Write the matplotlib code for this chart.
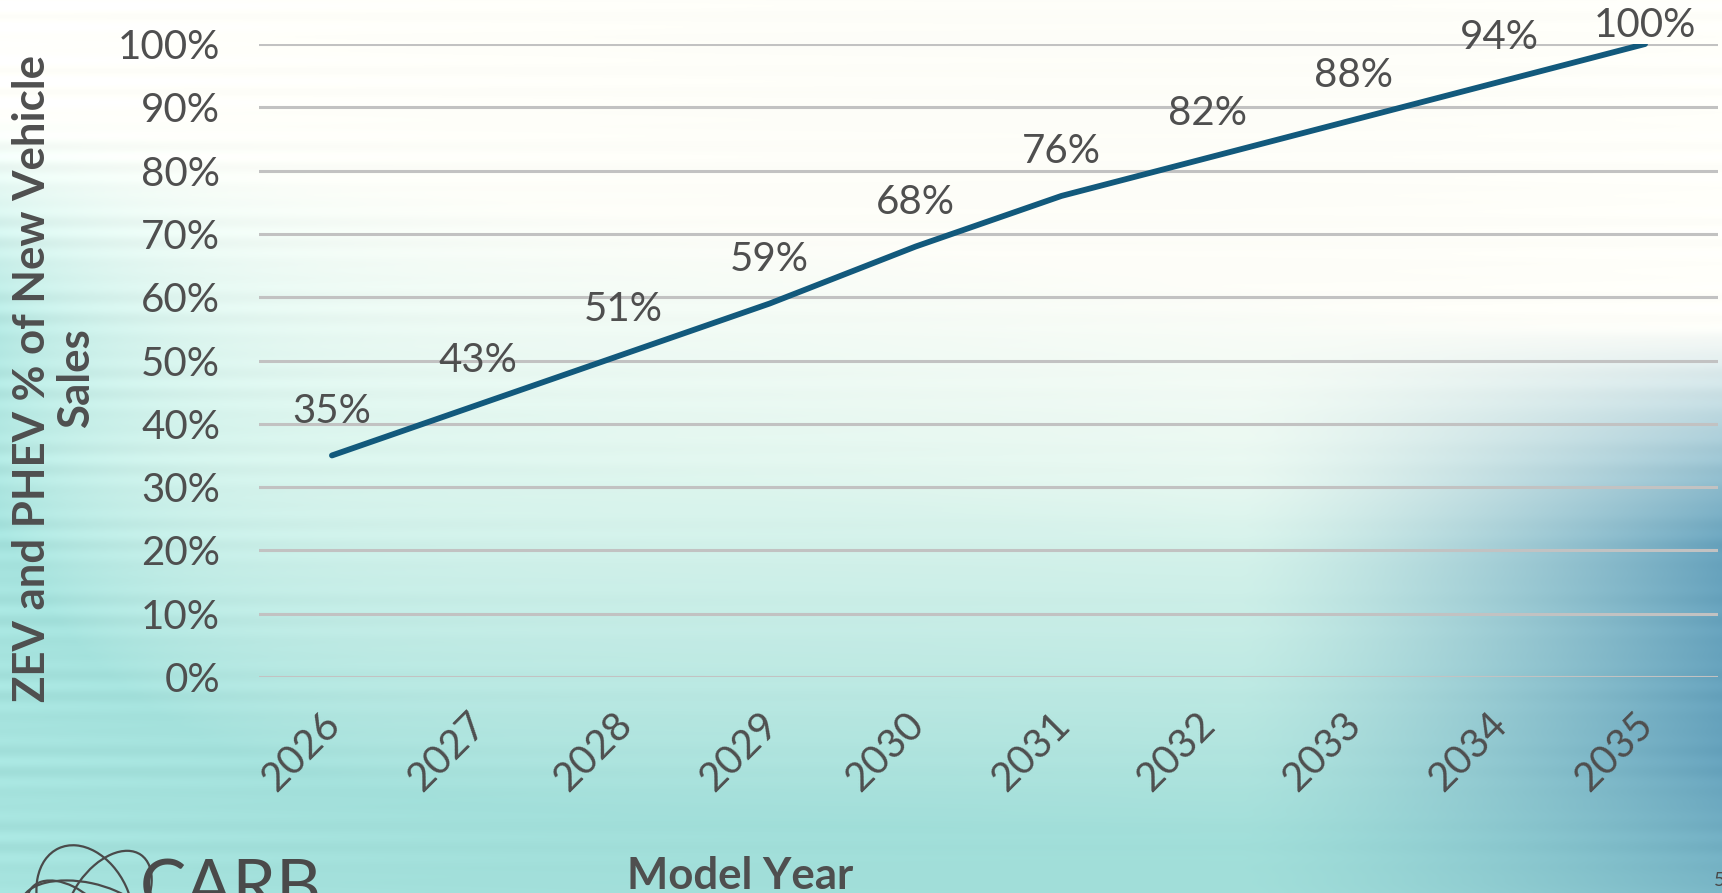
import matplotlib.pyplot as plt
from matplotlib.patches import Arc
import numpy as np


# chart data
years = ['2026', '2027', '2028', '2029', '2030', '2031', '2032', '2033', '2034', '2035']
share = [35, 43, 51, 59, 68, 76, 82, 88, 94, 100]  # % of new vehicle sales
y_ticks = [0, 10, 20, 30, 40, 50, 60, 70, 80, 90, 100]

W, H, DPI = 1722, 893, 100
TXT = '#4f4f4f'
LINE = '#12597c'

plt.rcParams['font.family'] = ['Lato', 'DejaVu Sans']


def background(w, h):
    """soft slide background: cream top, teal bottom/left, darker blue on the right"""
    yy, xx = np.mgrid[0:h, 0:w]
    xn = xx / w
    yn = yy / h
    cream = np.array([0.992, 0.992, 0.972])
    mint = np.array([0.87, 0.96, 0.93])
    teal = np.array([0.63, 0.87, 0.85])
    deep = np.array([0.37, 0.61, 0.72])

    w_mint = np.clip((yn - 0.16 - 0.22 * xn) / 0.3, 0, 1)
    w_teal = np.clip((yn - 0.5 - 0.05 * xn) / 0.4, 0, 1) ** 1.1
    w_left = np.exp(-xn / 0.09) * np.clip((yn - 0.12) / 0.25, 0, 1)
    w_teal = np.clip(w_teal + 0.8 * w_left, 0, 1)
    w_deep = (np.clip((xn - 0.72) / 0.28, 0, 1) ** 1.3
              * np.clip((yn - 0.36) / 0.25, 0, 1)
              * np.clip((1.3 - yn) / 0.45, 0, 1) * 0.95)

    img = cream * (1 - w_mint[..., None]) + mint * w_mint[..., None]
    img = img * (1 - w_teal[..., None]) + teal * w_teal[..., None]
    img = img * (1 - w_deep[..., None]) + deep * w_deep[..., None]

    # faint horizontal streaks, strongest near the left and right edges
    streak = 0.5 + 0.5 * np.sin(yn * 260) * np.sin(yn * 37 + 1.3)
    fade = np.exp(-xn / 0.25) + 0.5 * np.exp(-(1 - xn) / 0.15)
    img = img + (0.045 * streak * fade)[..., None]
    return np.clip(img, 0, 1)


fig = plt.figure(figsize=(W / DPI, H / DPI), dpi=DPI)

bg = fig.add_axes([0, 0, 1, 1], zorder=0)
bg.imshow(background(W, H), aspect='auto', extent=[0, W, H, 0], interpolation='bilinear')
bg.set_xlim(0, W)
bg.set_ylim(H, 0)
bg.axis('off')

# CARB logo swirls (pixel coords, partly below the slide edge)
for cx, cy, ww, hh, ang in [(85, 905, 90, 125, -25), (108, 902, 70, 115, 35),
                            (85, 915, 130, 65, 12), (70, 920, 60, 100, -50)]:
    bg.add_patch(Arc((cx, cy), ww, hh, angle=ang, color='#4a4a4a', lw=1.6))

ax = fig.add_axes([259 / W, 1 - 677 / H, (1718 - 259) / W, (677 - 44) / H], zorder=1)
ax.patch.set_alpha(0)

x = np.arange(len(years))
ax.plot(x, share, color=LINE, lw=4.2, solid_capstyle='round', zorder=3)

for i, v in enumerate(share):
    off = 13 if i == len(share) - 1 else 32
    ax.annotate(f'{v}%', (x[i], v), xytext=(0, off), textcoords='offset points',
                ha='center', va='center', fontsize=29, color=TXT, zorder=4)

ax.set_xlim(-0.5, len(years) - 0.5)
ax.set_ylim(0, 100)
ax.set_yticks(y_ticks)
ax.set_yticklabels([f'{t}%' for t in y_ticks])
# labels sit a touch left of the category centre, as in the slide
ax.set_xticks(x - 0.075)
ax.set_xticklabels(years, rotation=45, ha='right', rotation_mode='anchor')

ax.grid(axis='y', color='#c2c2c2', lw=2.2, zorder=1)
ax.grid(axis='x', visible=False)
ax.set_axisbelow(True)
for s in ax.spines.values():
    s.set_visible(False)
ax.tick_params(axis='both', length=0, labelsize=29, labelcolor=TXT)
ax.tick_params(axis='y', pad=28)
ax.tick_params(axis='x', pad=21)

fig.text(54 / W, 1 - 378 / H, 'ZEV and PHEV % of New Vehicle\nSales', rotation=90,
         ha='center', va='center', multialignment='center', fontsize=31.5,
         fontweight='bold', color=TXT, linespacing=1.15)
fig.text(740 / W, 1 - 889 / H, 'Model Year', ha='center', va='baseline',
         fontsize=31.5, fontweight='bold', color=TXT)

# logo text and page number, cut by the slide edge
fig.text(140 / W, 1 - 858 / H, 'CARB', ha='left', va='top', fontsize=50,
         color='#4a4a4a')
fig.text(1714 / W, 1 - 872 / H, '5', ha='left', va='top', fontsize=14, color='#4a4a4a')

fig.savefig('out.png', dpi=DPI)
